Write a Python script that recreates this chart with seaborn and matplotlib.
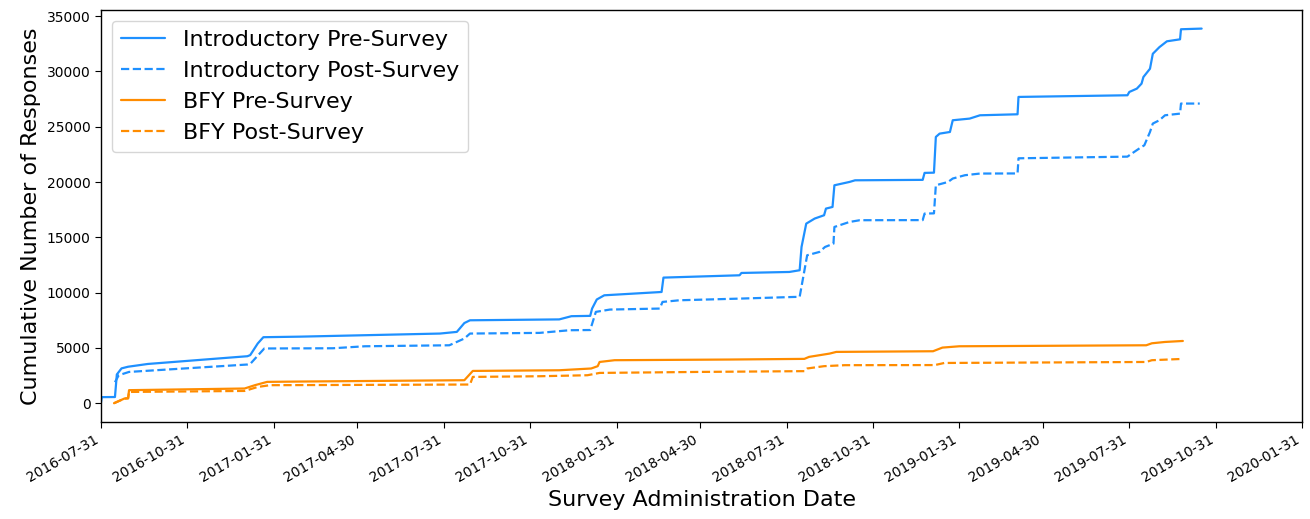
import matplotlib
matplotlib.use("Agg")
import matplotlib.pyplot as plt
import matplotlib.dates as mdates
import pandas as pd
import seaborn as sns

# Cumulative response counts for each survey, sampled at the dates where the totals change
intro_pre_dates = [
    "2016-07-31", "2016-08-01", "2016-08-15", "2016-08-17", "2016-08-22", "2016-08-29",
    "2016-09-19", "2017-01-03", "2017-01-06", "2017-01-14", "2017-01-20", "2017-02-28",
    "2017-07-27", "2017-08-14", "2017-08-22", "2017-08-28", "2017-12-01", "2017-12-14",
    "2018-01-03", "2018-01-05", "2018-01-10", "2018-01-18", "2018-03-20", "2018-03-22",
    "2018-06-11", "2018-06-13", "2018-08-03", "2018-08-14", "2018-08-16", "2018-08-21",
    "2018-08-30", "2018-09-09", "2018-09-11", "2018-09-18", "2018-09-20", "2018-10-06",
    "2018-10-12", "2018-12-23", "2018-12-25", "2019-01-04", "2019-01-06", "2019-01-10",
    "2019-01-21", "2019-01-24", "2019-02-11", "2019-02-22", "2019-04-03", "2019-04-04",
    "2019-07-29", "2019-07-31", "2019-08-08", "2019-08-13", "2019-08-15", "2019-08-22",
    "2019-08-25", "2019-09-01", "2019-09-09", "2019-09-23", "2019-09-24", "2019-10-16",
]
intro_pre_counts = [
    0, 550, 560, 2600, 3150, 3300,
    3550, 4250, 4350, 5400, 5970, 6020,
    6300, 6450, 7250, 7500, 7580, 7870,
    7900, 8560, 9380, 9760, 10060, 11360,
    11570, 11780, 11870, 12025, 14130, 16240,
    16700, 17000, 17600, 17750, 19710, 20010,
    20160, 20200, 20830, 20850, 24080, 24380,
    24530, 25590, 25740, 26040, 26130, 27700,
    27850, 28150, 28450, 28900, 29500, 30250,
    31600, 32200, 32730, 32910, 33820, 33880,
]

intro_post_dates = [
    "2016-08-15", "2016-08-19", "2016-08-30", "2017-01-03", "2017-01-06", "2017-01-14",
    "2017-01-21", "2017-04-04", "2017-05-08", "2017-08-06", "2017-08-22", "2017-08-28",
    "2017-11-10", "2017-12-12", "2018-01-03", "2018-01-09", "2018-01-24", "2018-03-18",
    "2018-03-21", "2018-04-08", "2018-06-11", "2018-08-08", "2018-08-14", "2018-08-22",
    "2018-09-04", "2018-09-10", "2018-09-19", "2018-09-20", "2018-10-06", "2018-10-17",
    "2018-12-23", "2018-12-25", "2019-01-04", "2019-01-06", "2019-01-19", "2019-01-24",
    "2019-02-06", "2019-02-22", "2019-04-03", "2019-04-04", "2019-07-29", "2019-08-03",
    "2019-08-11", "2019-08-16", "2019-08-22", "2019-08-25", "2019-09-01", "2019-09-07",
    "2019-09-23", "2019-09-24", "2019-10-14",
]
intro_post_counts = [
    1900, 2530, 2830, 3500, 3550, 4300,
    4950, 4970, 5150, 5240, 5850, 6300,
    6360, 6600, 6620, 8260, 8470, 8560,
    9160, 9310, 9460, 9610, 9620, 13380,
    13680, 14130, 14430, 15940, 16390, 16550,
    16560, 17150, 17170, 19710, 20010, 20320,
    20620, 20770, 20780, 22150, 22300, 22600,
    23060, 23330, 24530, 25290, 25590, 26040,
    26190, 27100, 27100,
]

bfy_pre_dates = [
    "2016-08-14", "2016-08-25", "2016-08-29", "2016-08-30", "2016-12-31", "2017-01-11",
    "2017-01-24", "2017-02-28", "2017-08-22", "2017-08-31", "2017-12-01", "2018-01-04",
    "2018-01-11", "2018-01-13", "2018-01-29", "2018-05-31", "2018-08-19", "2018-08-24",
    "2018-09-15", "2018-09-22", "2019-01-03", "2019-01-13", "2019-01-31", "2019-08-18",
    "2019-08-24", "2019-09-07", "2019-09-26",
]
bfy_pre_counts = [
    0, 420, 450, 1180, 1330, 1630,
    1930, 1960, 2080, 2920, 2980, 3140,
    3350, 3730, 3890, 3950, 4010, 4190,
    4490, 4640, 4700, 5030, 5150, 5240,
    5420, 5540, 5630,
]

bfy_post_dates = [
    "2016-08-14", "2016-08-25", "2016-08-29", "2016-08-30", "2016-12-31", "2017-01-14",
    "2017-01-27", "2017-08-28", "2017-08-31", "2017-11-10", "2017-12-31", "2018-01-13",
    "2018-04-29", "2018-08-19", "2018-08-22", "2018-09-09", "2018-10-01", "2019-01-05",
    "2019-01-15", "2019-08-18", "2019-08-24", "2019-09-24",
]
bfy_post_counts = [
    0, 420, 440, 1020, 1110, 1470,
    1630, 1690, 2380, 2440, 2530, 2740,
    2830, 2900, 3140, 3350, 3440, 3450,
    3640, 3730, 3890, 4000,
]

tick_dates = [
    "2016-07-31", "2016-10-31", "2017-01-31", "2017-04-30", "2017-07-31",
    "2017-10-31", "2018-01-31", "2018-04-30", "2018-07-31", "2018-10-31",
    "2019-01-31", "2019-04-30", "2019-07-31", "2019-10-31", "2020-01-31",
]

series = [
    ("Introductory Pre-Survey", intro_pre_dates, intro_pre_counts, "#1E90FF", "-"),
    ("Introductory Post-Survey", intro_post_dates, intro_post_counts, "#1E90FF", "--"),
    ("BFY Pre-Survey", bfy_pre_dates, bfy_pre_counts, "#FF8C00", "-"),
    ("BFY Post-Survey", bfy_post_dates, bfy_post_counts, "#FF8C00", "--"),
]

sns.set_style("ticks")
plt.rcParams["font.family"] = ["DejaVu Sans"]
plt.rcParams.update({
    "text.color": "black",
    "axes.labelcolor": "black",
    "xtick.color": "black",
    "ytick.color": "black",
    "axes.edgecolor": "black",
})

fig = plt.figure(figsize=(13.1, 5.19), dpi=100)
ax = fig.add_axes([0.077, 0.187, 0.917, 0.794])

for name, d, v, color, ls in series:
    df = pd.DataFrame({"date": pd.to_datetime(d), "count": v})
    sns.lineplot(data=df, x="date", y="count", ax=ax, color=color,
                 linestyle=ls, linewidth=1.6, label=name)

ticks = pd.to_datetime(tick_dates)
ax.set_xlim(ticks[0], ticks[-1])
ax.set_xticks(ticks)
ax.xaxis.set_major_formatter(mdates.DateFormatter("%Y-%m-%d"))
plt.setp(ax.get_xticklabels(), rotation=30, ha="right", fontsize=10)
ax.tick_params(axis="y", labelsize=10)
ax.set_yticks(range(0, 35001, 5000))

ax.set_xlabel("Survey Administration Date", fontsize=16)
ax.set_ylabel("Cumulative Number of Responses", fontsize=16)

for s in ax.spines.values():
    s.set_color("black")
    s.set_linewidth(1.0)
ax.tick_params(colors="black", direction="out", length=4)

leg = ax.legend(loc="upper left", fontsize=16, frameon=True, handlelength=2.0)
leg.get_frame().set_edgecolor("#cccccc")
for t in leg.get_texts():
    t.set_color("black")

fig.savefig("out.png", dpi=100, facecolor="white")
